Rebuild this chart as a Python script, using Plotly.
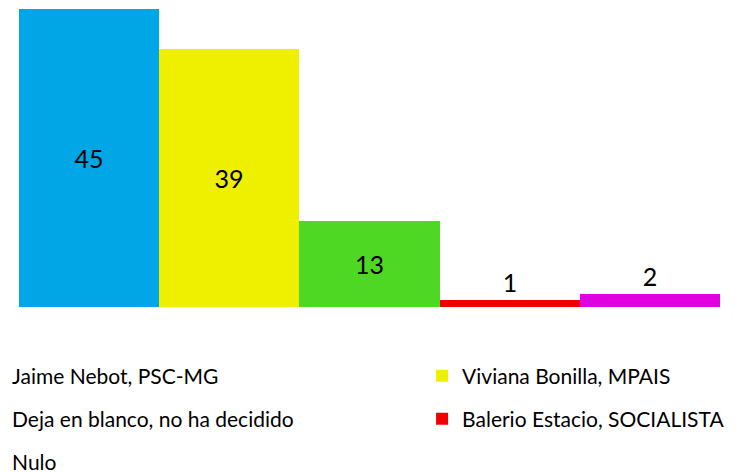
import plotly.graph_objects as go

categories = ["Jaime Nebot, PSC-MG", "Viviana Bonilla, MPAIS", "Deja en blanco, no ha decidido",
              "Balerio Estacio, SOCIALISTA", "Nulo"]
values = [45, 39, 13, 1, 2]
colors = ["#00A6E6", "#EFEF00", "#4ED824", "#F00000", "#E000E0"]
text_positions = ["inside", "inside", "inside", "outside", "outside"]

# legend placement (paper coords) for each entry
legend_x = [-0.067, 0.575, -0.067, 0.575, -0.067]
legend_y = [-0.2315, -0.2315, -0.376, -0.376, -0.520]

FONT = "Lato, 'Open Sans', sans-serif"

fig = go.Figure()
for i, (cat, val, col, tp) in enumerate(zip(categories, values, colors, text_positions)):
    lg = "legend" if i == 0 else f"legend{i+1}"
    fig.add_trace(go.Bar(
        x=[i], y=[val], name=cat, marker=dict(color=col, line=dict(width=0)),
        text=[str(val)], textposition=tp, insidetextanchor="middle",
        textfont=dict(family=FONT, size=25, color="black"),
        outsidetextfont=dict(family=FONT, size=25, color="black"),
        insidetextfont=dict(family=FONT, size=25, color="black"),
        legend=lg, cliponaxis=False,
    ))

layout_legends = {}
for i in range(5):
    lg = "legend" if i == 0 else f"legend{i+1}"
    layout_legends[lg] = dict(x=legend_x[i], y=legend_y[i],
                              xanchor="left", yanchor="middle",
                              font=dict(family=FONT, size=21, color="black"),
                              bgcolor="rgba(0,0,0,0)", itemwidth=30)

fig.update_layout(
    width=727, height=464,
    margin=dict(l=11, r=15, t=1, b=165, autoexpand=False),
    plot_bgcolor="white", paper_bgcolor="white",
    bargap=0, barmode="group",
    showlegend=True,
    xaxis=dict(range=[-0.5, 4.5], visible=False),
    yaxis=dict(range=[0, 45], visible=False),
    **layout_legends,
)

fig.write_html("out.html")
